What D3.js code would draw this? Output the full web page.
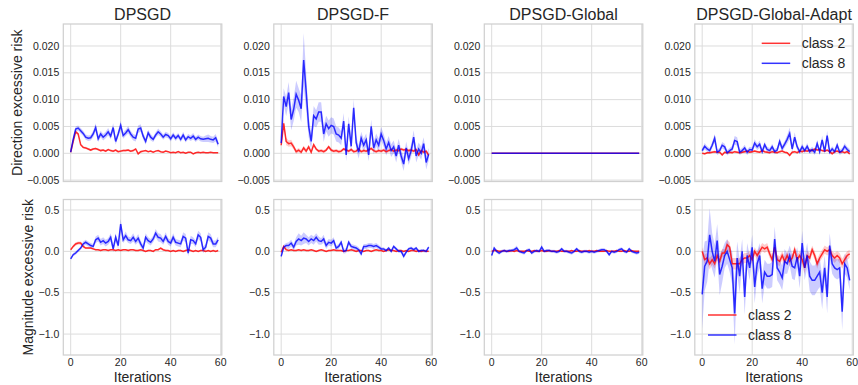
<!DOCTYPE html>
<html>
<head>
<meta charset="utf-8">
<script src="https://cdn.jsdelivr.net/npm/d3@7"></script>
<style>
  body { margin: 0; background: #fff; }
  svg { font-family: "Liberation Sans", Arial, sans-serif; }
</style>
</head>
<body>
<svg id="chart" width="858" height="385"></svg>
<script>
// ---- data ----
var titles = ["DPSGD", "DPSGD-F", "DPSGD-Global", "DPSGD-Global-Adapt"];
var rowLabels = ["Direction excessive risk", "Magnitude excessive risk"];
var seriesNames = ["class 2", "class 8"];
var xTicks = [0, 20, 40, 60];
var dirTicks = [-0.005, 0.000, 0.005, 0.010, 0.015, 0.020];
var magTicks = [-1.0, -0.5, 0.0, 0.5];

// direction excessive risk
var dirDpsgd2 = [
  0.0002, 0.0022, 0.0040, 0.0036, 0.0016, 0.0011, 0.0010, 0.0008, 0.0006, 0.0008,
  0.0009, 0.0007, 0.0005, 0.0006, 0.0004, 0.0007, 0.0005, 0.0004, 0.0006, 0.0003,
  0.0004, 0.0005, 0.0005, 0.0006, 0.0004, 0.0005, 0.0008, -0.0001, 0.0003, 0.0004,
  0.0005, 0.0003, 0.0004, 0.0002, 0.0004, 0.0005, 0.0003, 0.0002, 0.0004, 0.0003,
  0.0001, 0.0002, 0.0001, 0.0003, 0.0001, 0.0002, 0.0000, 0.0002, 0.0002, -0.0001,
  0.0001, 0.0002, 0.0001, 0.0002, 0.0001, 0.0001, 0.0002, 0.0001, 0.0001, 0.0001];
var dirDpsgd2Band = [
  0.0001, 0.0002, 0.0003, 0.0003, 0.0002, 0.0002, 0.0002, 0.0002, 0.0002, 0.0002,
  0.0002, 0.0002, 0.0002, 0.0002, 0.0002, 0.0002, 0.0002, 0.0002, 0.0002, 0.0002,
  0.0002, 0.0002, 0.0002, 0.0002, 0.0002, 0.0002, 0.0002, 0.0002, 0.0002, 0.0002,
  0.0001, 0.0001, 0.0001, 0.0001, 0.0001, 0.0001, 0.0001, 0.0001, 0.0001, 0.0001,
  0.0001, 0.0001, 0.0001, 0.0001, 0.0001, 0.0001, 0.0001, 0.0001, 0.0001, 0.0001,
  0.0001, 0.0001, 0.0001, 0.0001, 0.0001, 0.0001, 0.0001, 0.0001, 0.0001, 0.0001];
var dirDpsgd8 = [
  0.0002, 0.0026, 0.0045, 0.0047, 0.0042, 0.0037, 0.0030, 0.0028, 0.0029, 0.0036,
  0.0048, 0.0027, 0.0036, 0.0030, 0.0034, 0.0040, 0.0032, 0.0048, 0.0022, 0.0036,
  0.0052, 0.0033, 0.0038, 0.0044, 0.0036, 0.0030, 0.0028, 0.0045, 0.0047, 0.0032,
  0.0022, 0.0038, 0.0030, 0.0026, 0.0034, 0.0040, 0.0036, 0.0030, 0.0035, 0.0033,
  0.0027, 0.0034, 0.0028, 0.0033, 0.0026, 0.0034, 0.0025, 0.0031, 0.0028, 0.0032,
  0.0026, 0.0030, 0.0027, 0.0026, 0.0027, 0.0028, 0.0026, 0.0025, 0.0029, 0.0017];
var dirDpsgd8Band = [
  0.0002, 0.0004, 0.0005, 0.0005, 0.0005, 0.0005, 0.0005, 0.0005, 0.0005, 0.0006,
  0.0008, 0.0006, 0.0006, 0.0006, 0.0006, 0.0007, 0.0006, 0.0008, 0.0006, 0.0006,
  0.0009, 0.0006, 0.0006, 0.0007, 0.0006, 0.0006, 0.0006, 0.0007, 0.0007, 0.0006,
  0.0006, 0.0006, 0.0006, 0.0005, 0.0005, 0.0006, 0.0005, 0.0005, 0.0005, 0.0005,
  0.0005, 0.0005, 0.0005, 0.0005, 0.0005, 0.0006, 0.0005, 0.0005, 0.0005, 0.0006,
  0.0005, 0.0005, 0.0005, 0.0005, 0.0006, 0.0007, 0.0006, 0.0006, 0.0007, 0.0006];

var dirF2 = [
  0.0015, 0.0056, 0.0022, 0.0018, 0.0019, 0.0012, 0.0003, 0.0006, 0.0002, 0.0010,
  0.0004, 0.0012, 0.0002, 0.0016, 0.0008, 0.0004, 0.0005, 0.0003, 0.0006, 0.0012,
  0.0006, 0.0004, 0.0005, 0.0003, 0.0004, 0.0008, 0.0006, 0.0004, 0.0007, 0.0003,
  0.0004, 0.0008, 0.0003, 0.0005, 0.0004, 0.0006, 0.0009, 0.0005, 0.0003, 0.0005,
  0.0004, 0.0006, 0.0003, 0.0005, 0.0007, 0.0004, 0.0006, 0.0005, 0.0008, 0.0006,
  0.0007, 0.0005, 0.0006, 0.0004, 0.0007, -0.0003, 0.0005, 0.0002, 0.0004, -0.0004];
var dirF2Band = [
  0.0002, 0.0009, 0.0007, 0.0006, 0.0006, 0.0005, 0.0004, 0.0004, 0.0004, 0.0004,
  0.0004, 0.0004, 0.0003, 0.0004, 0.0003, 0.0003, 0.0003, 0.0003, 0.0003, 0.0003,
  0.0003, 0.0003, 0.0003, 0.0003, 0.0003, 0.0003, 0.0003, 0.0003, 0.0003, 0.0003,
  0.0003, 0.0003, 0.0003, 0.0003, 0.0003, 0.0003, 0.0003, 0.0003, 0.0003, 0.0003,
  0.0003, 0.0003, 0.0003, 0.0003, 0.0003, 0.0003, 0.0003, 0.0003, 0.0003, 0.0003,
  0.0003, 0.0003, 0.0003, 0.0003, 0.0003, 0.0003, 0.0003, 0.0003, 0.0003, 0.0003];
var dirF8 = [
  0.0019, 0.0106, 0.0087, 0.0113, 0.0063, 0.0082, 0.0110, 0.0099, 0.0083, 0.0174,
  0.0115, 0.0050, 0.0022, 0.0070, 0.0064, 0.0077, 0.0077, 0.0036, 0.0055, 0.0046,
  0.0052, 0.0050, 0.0036, 0.0034, 0.0028, 0.0060, -0.0003, 0.0055, 0.0013, 0.0085,
  0.0020, 0.0002, 0.0028, 0.0015, 0.0025, -0.0003, 0.0050, 0.0010, 0.0025, 0.0015,
  0.0036, 0.0024, 0.0008, 0.0020, 0.0005, 0.0012, -0.0005, 0.0015, -0.0005, -0.0020,
  0.0010, -0.0010, 0.0005, 0.0030, -0.0005, 0.0008, 0.0000, 0.0018, -0.0017, -0.0002];
var dirF8Band = [
  0.0003, 0.0015, 0.0018, 0.0020, 0.0020, 0.0022, 0.0025, 0.0022, 0.0025, 0.0050,
  0.0035, 0.0020, 0.0015, 0.0018, 0.0016, 0.0018, 0.0018, 0.0015, 0.0015, 0.0015,
  0.0015, 0.0015, 0.0014, 0.0014, 0.0013, 0.0015, 0.0012, 0.0014, 0.0012, 0.0016,
  0.0012, 0.0012, 0.0012, 0.0012, 0.0012, 0.0012, 0.0013, 0.0012, 0.0012, 0.0012,
  0.0013, 0.0012, 0.0012, 0.0012, 0.0012, 0.0012, 0.0012, 0.0012, 0.0012, 0.0013,
  0.0012, 0.0012, 0.0012, 0.0013, 0.0012, 0.0012, 0.0012, 0.0012, 0.0013, 0.0012];

var dirGlobal2 = [
  0, 0, 0, 0, 0, 0, 0, 0, 0, 0,  0, 0, 0, 0, 0, 0, 0, 0, 0, 0,
  0, 0, 0, 0, 0, 0, 0, 0, 0, 0,  0, 0, 0, 0, 0, 0, 0, 0, 0, 0,
  0, 0, 0, 0, 0, 0, 0, 0, 0, 0,  0, 0, 0, 0, 0, 0, 0, 0, 0, 0];
var dirGlobal2Band = [
  0, 0, 0, 0, 0, 0, 0, 0, 0, 0,  0, 0, 0, 0, 0, 0, 0, 0, 0, 0,
  0, 0, 0, 0, 0, 0, 0, 0, 0, 0,  0, 0, 0, 0, 0, 0, 0, 0, 0, 0,
  0, 0, 0, 0, 0, 0, 0, 0, 0, 0,  0, 0, 0, 0, 0, 0, 0, 0, 0, 0];
var dirGlobal8 = [
  0, 0, 0, 0, 0, 0, 0, 0, 0, 0,  0, 0, 0, 0, 0, 0, 0, 0, 0, 0,
  0, 0, 0, 0, 0, 0, 0, 0, 0, 0,  0, 0, 0, 0, 0, 0, 0, 0, 0, 0,
  0, 0, 0, 0, 0, 0, 0, 0, 0, 0,  0, 0, 0, 0, 0, 0, 0, 0, 0, 0];
var dirGlobal8Band = [
  0, 0, 0, 0, 0, 0, 0, 0, 0, 0,  0, 0, 0, 0, 0, 0, 0, 0, 0, 0,
  0, 0, 0, 0, 0, 0, 0, 0, 0, 0,  0, 0, 0, 0, 0, 0, 0, 0, 0, 0,
  0, 0, 0, 0, 0, 0, 0, 0, 0, 0,  0, 0, 0, 0, 0, 0, 0, 0, 0, 0];

var dirAdapt2 = [
  0.0000, -0.0001, 0.0001, 0.0001, 0.0002, 0.0003, 0.0002, 0.0002, -0.0003, 0.0002,
  0.0001, 0.0002, 0.0001, 0.0003, 0.0002, 0.0001, 0.0002, 0.0003, 0.0004, 0.0002,
  0.0003, 0.0004, 0.0003, 0.0002, 0.0005, 0.0003, 0.0002, 0.0001, 0.0003, 0.0002,
  0.0001, 0.0003, 0.0004, 0.0002, 0.0001, -0.0004, 0.0002, 0.0003, 0.0001, 0.0004,
  0.0003, 0.0005, 0.0004, 0.0006, 0.0005, 0.0008, 0.0006, 0.0007, 0.0005, 0.0004,
  0.0006, 0.0003, -0.0001, 0.0003, 0.0004, 0.0002, 0.0003, 0.0001, 0.0003, -0.0001];
var dirAdapt2Band = [
  0.0001, 0.0002, 0.0002, 0.0002, 0.0002, 0.0002, 0.0002, 0.0002, 0.0002, 0.0002,
  0.0002, 0.0002, 0.0002, 0.0002, 0.0002, 0.0002, 0.0002, 0.0002, 0.0002, 0.0002,
  0.0002, 0.0002, 0.0002, 0.0002, 0.0002, 0.0002, 0.0002, 0.0002, 0.0002, 0.0002,
  0.0002, 0.0002, 0.0002, 0.0002, 0.0002, 0.0002, 0.0002, 0.0002, 0.0002, 0.0002,
  0.0002, 0.0002, 0.0002, 0.0002, 0.0002, 0.0003, 0.0002, 0.0002, 0.0002, 0.0002,
  0.0002, 0.0002, 0.0002, 0.0002, 0.0002, 0.0002, 0.0002, 0.0002, 0.0002, 0.0002];
var dirAdapt8 = [
  0.0005, 0.0013, 0.0008, 0.0005, 0.0015, 0.0028, 0.0002, 0.0005, 0.0015, 0.0012,
  0.0001, 0.0005, 0.0008, 0.0024, 0.0022, 0.0002, 0.0005, 0.0010, 0.0002, 0.0007,
  0.0006, 0.0019, 0.0012, 0.0017, 0.0003, 0.0016, 0.0007, 0.0005, 0.0012, 0.0003,
  0.0006, 0.0022, 0.0009, 0.0017, 0.0026, 0.0037, 0.0008, 0.0030, 0.0012, 0.0003,
  0.0012, 0.0005, 0.0013, 0.0003, 0.0007, 0.0002, 0.0018, 0.0003, 0.0025, 0.0003,
  0.0033, 0.0002, 0.0008, 0.0003, 0.0015, 0.0002, 0.0005, 0.0013, 0.0007, 0.0003];
var dirAdapt8Band = [
  0.0004, 0.0006, 0.0005, 0.0005, 0.0006, 0.0008, 0.0005, 0.0005, 0.0006, 0.0006,
  0.0005, 0.0005, 0.0006, 0.0008, 0.0008, 0.0005, 0.0005, 0.0006, 0.0005, 0.0005,
  0.0005, 0.0007, 0.0006, 0.0007, 0.0005, 0.0006, 0.0005, 0.0005, 0.0006, 0.0005,
  0.0005, 0.0007, 0.0006, 0.0006, 0.0008, 0.0011, 0.0006, 0.0009, 0.0006, 0.0005,
  0.0006, 0.0005, 0.0006, 0.0005, 0.0005, 0.0005, 0.0007, 0.0005, 0.0008, 0.0005,
  0.0009, 0.0005, 0.0005, 0.0005, 0.0006, 0.0005, 0.0005, 0.0006, 0.0005, 0.0005];

// magnitude excessive risk
var magDpsgd2 = [
  0.02, 0.06, 0.09, 0.10, 0.10, 0.06, 0.04, 0.04, 0.04, 0.03,
  0.02, 0.02, 0.01, 0.02, 0.02, 0.01, 0.02, 0.02, 0.01, 0.02,
  0.01, 0.02, 0.02, 0.01, 0.02, 0.02, 0.01, 0.01, 0.02, 0.01,
  0.00, 0.01, 0.01, 0.00, 0.02, 0.02, 0.04, 0.02, 0.01, 0.01,
  0.00, 0.01, 0.00, 0.01, 0.01, 0.00, 0.01, 0.02, 0.01, 0.00,
  0.01, 0.00, 0.01, 0.01, 0.00, 0.01, 0.00, 0.01, 0.00, 0.01];
var magDpsgd2Band = [
  0.01, 0.02, 0.02, 0.02, 0.02, 0.02, 0.01, 0.01, 0.01, 0.01,
  0.01, 0.01, 0.01, 0.01, 0.01, 0.01, 0.01, 0.01, 0.01, 0.01,
  0.01, 0.01, 0.01, 0.01, 0.01, 0.01, 0.01, 0.01, 0.01, 0.01,
  0.01, 0.01, 0.01, 0.01, 0.01, 0.01, 0.01, 0.01, 0.01, 0.01,
  0.01, 0.01, 0.01, 0.01, 0.01, 0.01, 0.01, 0.01, 0.01, 0.01,
  0.01, 0.01, 0.01, 0.01, 0.01, 0.01, 0.01, 0.01, 0.01, 0.01];
var magDpsgd8 = [
  -0.09, -0.04, -0.02, 0.01, 0.04, 0.09, 0.11, 0.09, 0.07, 0.06,
  0.14, 0.16, 0.11, 0.13, 0.10, 0.12, 0.17, 0.03, 0.17, 0.07,
  0.33, 0.14, 0.19, 0.14, 0.13, 0.17, 0.12, 0.16, 0.09, 0.04,
  0.17, 0.13, 0.11, 0.15, 0.22, 0.17, 0.16, 0.12, 0.18, 0.12,
  0.10, 0.17, 0.11, 0.10, 0.09, 0.18, 0.16, -0.02, 0.14, 0.13,
  0.09, 0.20, 0.17, 0.02, 0.05, 0.18, 0.16, 0.09, 0.09, 0.14];
var magDpsgd8Band = [
  0.01, 0.02, 0.02, 0.02, 0.02, 0.03, 0.03, 0.03, 0.03, 0.03,
  0.04, 0.04, 0.04, 0.04, 0.04, 0.04, 0.05, 0.04, 0.05, 0.04,
  0.06, 0.04, 0.05, 0.04, 0.04, 0.05, 0.04, 0.05, 0.04, 0.04,
  0.05, 0.04, 0.04, 0.04, 0.05, 0.05, 0.05, 0.04, 0.05, 0.04,
  0.04, 0.05, 0.04, 0.04, 0.04, 0.05, 0.05, 0.04, 0.05, 0.04,
  0.04, 0.05, 0.05, 0.04, 0.04, 0.05, 0.05, 0.04, 0.04, 0.04];

var magF2 = [
  -0.01, 0.06, 0.02, 0.01, 0.02, 0.01, 0.01, 0.02, 0.01, 0.02,
  0.01, 0.01, 0.02, 0.01, 0.00, 0.01, 0.02, 0.01, 0.00, 0.01,
  0.01, 0.02, 0.01, 0.01, 0.01, 0.00, 0.01, 0.01, 0.02, 0.01,
  0.00, 0.01, 0.01, 0.00, 0.01, 0.01, 0.00, 0.01, 0.02, 0.01,
  0.01, 0.00, 0.01, 0.02, 0.01, 0.01, 0.00, 0.01, 0.01, 0.00,
  0.01, 0.00, 0.01, 0.01, 0.00, 0.01, 0.00, 0.01, 0.00, 0.00];
var magF2Band = [
  0.01, 0.02, 0.02, 0.01, 0.01, 0.01, 0.01, 0.01, 0.01, 0.01,
  0.01, 0.01, 0.01, 0.01, 0.01, 0.01, 0.01, 0.01, 0.01, 0.01,
  0.01, 0.01, 0.01, 0.01, 0.01, 0.01, 0.01, 0.01, 0.01, 0.01,
  0.01, 0.01, 0.01, 0.01, 0.01, 0.01, 0.01, 0.01, 0.01, 0.01,
  0.01, 0.01, 0.01, 0.01, 0.01, 0.01, 0.01, 0.01, 0.01, 0.01,
  0.01, 0.01, 0.01, 0.01, 0.01, 0.01, 0.01, 0.01, 0.01, 0.01];
var magF8 = [
  -0.06, 0.05, 0.07, 0.07, 0.10, 0.05, 0.12, 0.15, 0.13, 0.16,
  0.15, 0.12, 0.15, 0.13, 0.17, 0.13, 0.12, 0.15, 0.07, 0.11,
  0.10, 0.13, 0.04, 0.06, 0.11, 0.00, 0.01, 0.11, 0.06, 0.05,
  0.04, 0.02, -0.03, 0.06, 0.06, 0.07, 0.07, 0.06, 0.07, 0.05,
  0.03, 0.03, 0.01, 0.04, 0.00, 0.06, 0.03, 0.00, 0.00, -0.06,
  -0.01, 0.03, 0.04, 0.02, 0.04, 0.00, 0.01, 0.01, 0.00, 0.05];
var magF8Band = [
  0.02, 0.03, 0.03, 0.04, 0.04, 0.04, 0.05, 0.07, 0.06, 0.07,
  0.05, 0.05, 0.05, 0.05, 0.05, 0.05, 0.04, 0.05, 0.04, 0.04,
  0.04, 0.04, 0.03, 0.03, 0.03, 0.03, 0.03, 0.03, 0.03, 0.03,
  0.03, 0.03, 0.03, 0.03, 0.03, 0.03, 0.03, 0.03, 0.03, 0.03,
  0.02, 0.02, 0.02, 0.02, 0.02, 0.02, 0.02, 0.02, 0.02, 0.03,
  0.02, 0.02, 0.02, 0.02, 0.02, 0.02, 0.02, 0.02, 0.02, 0.02];

var magGlobal2 = [
  0.00, 0.01, 0.01, 0.00, 0.00, 0.01, 0.00, 0.00, 0.01, 0.00,
  0.01, 0.00, 0.00, 0.00, 0.01, 0.00, 0.00, 0.01, 0.00, 0.00,
  0.01, 0.00, 0.00, 0.01, 0.00, 0.00, 0.00, 0.01, 0.00, 0.00,
  0.00, 0.00, 0.01, 0.00, 0.00, 0.01, 0.00, 0.00, 0.00, 0.01,
  0.00, 0.00, 0.01, 0.00, 0.00, 0.00, 0.01, 0.00, 0.00, 0.00,
  0.01, 0.00, 0.00, 0.01, 0.00, 0.00, 0.01, 0.00, 0.00, 0.00];
var magGlobal2Band = [
  0.01, 0.01, 0.01, 0.01, 0.01, 0.01, 0.01, 0.01, 0.01, 0.01,
  0.01, 0.01, 0.01, 0.01, 0.01, 0.01, 0.01, 0.01, 0.01, 0.01,
  0.01, 0.01, 0.01, 0.01, 0.01, 0.01, 0.01, 0.01, 0.01, 0.01,
  0.01, 0.01, 0.01, 0.01, 0.01, 0.01, 0.01, 0.01, 0.01, 0.01,
  0.01, 0.01, 0.01, 0.01, 0.01, 0.01, 0.01, 0.01, 0.01, 0.01,
  0.01, 0.01, 0.01, 0.01, 0.01, 0.01, 0.01, 0.01, 0.01, 0.01];
var magGlobal8 = [
  -0.05, 0.04, 0.00, -0.02, 0.00, 0.01, 0.00, 0.01, 0.01, 0.02,
  0.04, 0.00, -0.01, -0.02, 0.01, 0.02, -0.02, 0.00, 0.01, 0.00,
  0.05, 0.00, 0.01, 0.01, 0.00, 0.00, -0.01, 0.00, 0.03, 0.00,
  0.00, -0.01, -0.02, 0.00, 0.03, 0.00, -0.01, 0.00, 0.00, -0.01,
  0.00, -0.01, 0.00, 0.01, 0.02, 0.02, 0.00, -0.04, 0.00, -0.01,
  0.00, 0.02, 0.03, 0.00, -0.01, 0.03, 0.00, -0.01, -0.02, -0.01];
var magGlobal8Band = [
  0.01, 0.02, 0.02, 0.02, 0.02, 0.02, 0.02, 0.02, 0.02, 0.02,
  0.03, 0.02, 0.02, 0.02, 0.02, 0.02, 0.02, 0.02, 0.02, 0.02,
  0.03, 0.02, 0.02, 0.02, 0.02, 0.02, 0.02, 0.02, 0.02, 0.02,
  0.02, 0.02, 0.02, 0.02, 0.02, 0.02, 0.02, 0.02, 0.02, 0.02,
  0.02, 0.02, 0.02, 0.02, 0.02, 0.02, 0.02, 0.02, 0.02, 0.02,
  0.02, 0.02, 0.02, 0.02, 0.02, 0.02, 0.02, 0.02, 0.02, 0.02];

var magAdapt2 = [
  0.00, -0.10, -0.08, -0.15, -0.10, -0.15, -0.05, -0.12, -0.02, -0.02,
  0.08, 0.05, -0.15, -0.15, -0.15, -0.15, -0.10, -0.08, -0.08, -0.05,
  -0.10, 0.00, -0.05, 0.00, 0.05, 0.03, 0.05, -0.03, -0.10, 0.05,
  -0.10, -0.12, -0.05, -0.12, -0.05, -0.12, -0.08, 0.02, -0.10, -0.05,
  -0.10, -0.20, -0.05, -0.08, 0.02, -0.05, -0.15, -0.08, -0.03, 0.02,
  0.00, 0.02, -0.05, -0.08, -0.05, -0.08, -0.15, -0.10, -0.05, -0.03];
var magAdapt2Band = [
  0.05, 0.06, 0.06, 0.07, 0.06, 0.06, 0.06, 0.06, 0.05, 0.05,
  0.06, 0.06, 0.07, 0.07, 0.07, 0.07, 0.06, 0.06, 0.06, 0.05,
  0.06, 0.05, 0.05, 0.05, 0.05, 0.05, 0.05, 0.05, 0.06, 0.05,
  0.06, 0.06, 0.05, 0.06, 0.05, 0.06, 0.05, 0.05, 0.06, 0.05,
  0.06, 0.07, 0.05, 0.06, 0.05, 0.05, 0.06, 0.05, 0.05, 0.05,
  0.05, 0.05, 0.05, 0.06, 0.05, 0.06, 0.06, 0.06, 0.05, 0.05];
var magAdapt8 = [
  -0.52, -0.18, -0.12, 0.20, 0.00, -0.12, 0.13, -0.28, -0.18, -0.05,
  0.00, -0.10, -0.20, -0.75, -0.08, -0.30, 0.00, -0.55, -0.05, -0.20,
  0.05, -0.43, -0.15, -0.05, -0.45, -0.25, -0.30, -0.30, -0.28, 0.15,
  -0.20, -0.25, -0.32, -0.12, -0.15, -0.05, -0.18, -0.20, -0.07, -0.30,
  0.10, -0.20, -0.05, -0.30, -0.35, -0.35, -0.30, -0.25, -0.50, -0.20,
  -0.55, 0.07, -0.15, -0.20, -0.22, -0.20, -0.73, -0.15, -0.20, -0.35];
var magAdapt8Band = [
  0.42, 0.30, 0.25, 0.32, 0.22, 0.20, 0.20, 0.25, 0.20, 0.15,
  0.15, 0.15, 0.20, 0.38, 0.20, 0.20, 0.15, 0.22, 0.15, 0.15,
  0.15, 0.20, 0.15, 0.15, 0.18, 0.15, 0.15, 0.15, 0.15, 0.15,
  0.15, 0.15, 0.15, 0.15, 0.12, 0.12, 0.15, 0.15, 0.12, 0.15,
  0.15, 0.15, 0.15, 0.18, 0.18, 0.18, 0.18, 0.18, 0.20, 0.15,
  0.20, 0.15, 0.12, 0.12, 0.12, 0.12, 0.22, 0.12, 0.12, 0.12];

// ---- layout ----
var colLeft = [63.3, 273.8, 484.3, 694.8];
var panelW = 158.5;
var rowTop = [24, 199.5];
var rowH = [157.5, 155.5];
var colors = ["#ff0000", "#0000ff"];

var rows = [
  { label: rowLabels[0], domain: [-0.00526, 0.0241], ticks: dirTicks, fmt: d3.format(".3f"), labelX: 17,
    data: [[dirDpsgd2, dirDpsgd2Band, dirDpsgd8, dirDpsgd8Band],
           [dirF2, dirF2Band, dirF8, dirF8Band],
           [dirGlobal2, dirGlobal2Band, dirGlobal8, dirGlobal8Band],
           [dirAdapt2, dirAdapt2Band, dirAdapt8, dirAdapt8Band]] },
  { label: rowLabels[1], domain: [-1.253, 0.627], ticks: magTicks, fmt: d3.format(".1f"), labelX: 28,
    data: [[magDpsgd2, magDpsgd2Band, magDpsgd8, magDpsgd8Band],
           [magF2, magF2Band, magF8, magF8Band],
           [magGlobal2, magGlobal2Band, magGlobal8, magGlobal8Band],
           [magAdapt2, magAdapt2Band, magAdapt8, magAdapt8Band]] }
];

var svg = d3.select("#chart");

rows.forEach(function (row, r) {
  var y = d3.scaleLinear().domain(row.domain).range([rowTop[r] + rowH[r], rowTop[r]]);

  svg.append("text")
    .attr("transform", "translate(" + row.labelX + "," + (rowTop[r] + rowH[r] / 2) + ") rotate(-90)")
    .attr("text-anchor", "middle")
    .attr("dy", "0.35em")
    .attr("font-size", 14)
    .attr("fill", "#262626")
    .text(row.label);

  titles.forEach(function (title, c) {
    var x = d3.scaleLinear().domain([-2.95, 60.45]).range([colLeft[c], colLeft[c] + panelW]);
    var g = svg.append("g");

    // grid
    g.selectAll(".gx").data(xTicks).enter().append("line")
      .attr("x1", function (d) { return x(d); }).attr("x2", function (d) { return x(d); })
      .attr("y1", rowTop[r]).attr("y2", rowTop[r] + rowH[r])
      .attr("stroke", "#dcdcdc").attr("stroke-width", 1);
    g.selectAll(".gy").data(row.ticks).enter().append("line")
      .attr("x1", colLeft[c]).attr("x2", colLeft[c] + panelW)
      .attr("y1", function (d) { return y(d); }).attr("y2", function (d) { return y(d); })
      .attr("stroke", "#dcdcdc").attr("stroke-width", 1);

    // y tick labels
    g.selectAll(".ty").data(row.ticks).enter().append("text")
      .attr("x", colLeft[c] - 4)
      .attr("y", function (d) { return y(d); })
      .attr("dy", "0.35em")
      .attr("text-anchor", "end")
      .attr("font-size", 10.5)
      .attr("fill", "#262626")
      .text(row.fmt);

    // bands + lines
    var set = row.data[c];
    [0, 1].forEach(function (s) {
      var mean = set[s * 2], band = set[s * 2 + 1];
      var area = d3.area()
        .x(function (d, i) { return x(i); })
        .y0(function (d, i) { return y(d - band[i]); })
        .y1(function (d, i) { return y(d + band[i]); });
      g.append("path").datum(mean)
        .attr("d", area)
        .attr("fill", colors[s]).attr("fill-opacity", 0.2);
    });
    [0, 1].forEach(function (s) {
      var line = d3.line()
        .x(function (d, i) { return x(i); })
        .y(function (d) { return y(d); });
      g.append("path").datum(set[s * 2])
        .attr("d", line)
        .attr("fill", "none")
        .attr("stroke", colors[s]).attr("stroke-opacity", 0.8)
        .attr("stroke-width", 1.5);
    });

    // frame
    g.append("rect")
      .attr("x", colLeft[c]).attr("y", rowTop[r])
      .attr("width", panelW).attr("height", rowH[r])
      .attr("fill", "none").attr("stroke", "#d0d0d0").attr("stroke-width", 1.25);

    if (r === 0) {
      svg.append("text")
        .attr("x", colLeft[c] + panelW / 2).attr("y", 20)
        .attr("text-anchor", "middle")
        .attr("font-size", 16)
        .attr("fill", "#262626")
        .text(title);
    } else {
      g.selectAll(".tx").data(xTicks).enter().append("text")
        .attr("x", function (d) { return x(d); })
        .attr("y", 366)
        .attr("text-anchor", "middle")
        .attr("font-size", 10.5)
        .attr("fill", "#262626")
        .text(function (d) { return d; });
      svg.append("text")
        .attr("x", colLeft[c] + panelW / 2).attr("y", 382)
        .attr("text-anchor", "middle")
        .attr("font-size", 14)
        .attr("fill", "#262626")
        .text("Iterations");
    }
  });
});

// legends
function legend(lx, ly) {
  seriesNames.forEach(function (name, s) {
    var yy = ly + s * 20;
    svg.append("line")
      .attr("x1", lx).attr("x2", lx + 28.5)
      .attr("y1", yy).attr("y2", yy)
      .attr("stroke", colors[s]).attr("stroke-opacity", 0.8).attr("stroke-width", 1.5);
    svg.append("text")
      .attr("x", lx + 40).attr("y", yy)
      .attr("dy", "0.35em")
      .attr("font-size", 14)
      .attr("fill", "#262626")
      .text(name);
  });
}
legend(761.7, 43.3);
legend(708, 315);
</script>
</body>
</html>
